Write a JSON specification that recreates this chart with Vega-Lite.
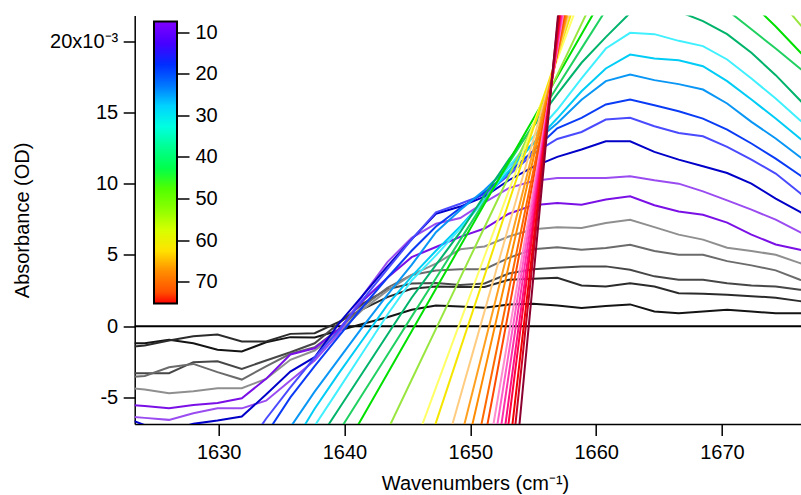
{
  "$schema": "https://vega.github.io/schema/vega-lite/v6.json",
  "width": 666.3,
  "height": 408.5,
  "autosize": {"type": "none"},
  "padding": {"left": 134.7, "top": 15.5, "right": 0, "bottom": 71},
  "background": "white",
  "config": {
    "font": "Liberation Sans",
    "view": {"stroke": null},
    "axis": {"grid": false, "domainColor": "black", "domainWidth": 1.5, "tickColor": "black", "tickWidth": 1.5, "labelColor": "black", "titleColor": "black", "labelFontSize": 20, "titleFontSize": 20, "titleFontWeight": "normal", "labelFont": "Liberation Sans", "titleFont": "Liberation Sans"}
  },
  "layer": [
    {
      "data": {"values": [
        {"x":1622.20,"s00":0,"s01":-1.2,"s02":-1.5,"s03":-3.3,"s04":-3.6,"s05":-4.3,"s06":-5.5,"s07":-6.3,"s08":-6.3},
        {"x":1624.13,"s00":0,"s01":-1.2,"s02":-1.36,"s03":-3.3,"s04":-3.5,"s05":-4.45,"s06":-5.6,"s07":-6.44,"s08":-6.95},
        {"x":1626.06,"s00":0,"s01":-0.96,"s02":-1.01,"s03":-3.3,"s04":-2.88,"s05":-4.71,"s06":-5.77,"s07":-6.58,"s08":-7.3},
        {"x":1627.99,"s00":0,"s01":-1.2,"s02":-0.7,"s03":-2.53,"s04":-2.65,"s05":-4.57,"s06":-5.53,"s07":-6.12,"s08":-6.86},
        {"x":1629.91,"s00":0,"s01":-1.66,"s02":-0.58,"s03":-2.46,"s04":-3.23,"s05":-4.36,"s06":-5.39,"s07":-5.77,"s08":-6.63,"s09":-11},
        {"x":1631.84,"s00":0,"s01":-1.78,"s02":-1.08,"s03":-3.0,"s04":-3.75,"s05":-4.36,"s06":-5.06,"s07":-5.77,"s08":-6.35,"s09":-9.0,"s10":-10},
        {"x":1633.77,"s00":0,"s01":-1.13,"s02":-1.08,"s03":-2.41,"s04":-2.83,"s05":-3.7,"s06":-3.7,"s07":-5.23,"s08":-4.8,"s09":-6.5,"s10":-7.6,"s11":-9.5},
        {"x":1635.70,"s00":0,"s01":-0.77,"s02":-0.54,"s03":-1.83,"s04":-1.94,"s05":-2.36,"s06":-1.99,"s07":-3.82,"s08":-3.19,"s09":-4.3,"s10":-5.0,"s11":-7.1,"s12":-8.6,"s13":-9.6},
        {"x":1637.63,"s00":0,"s01":-0.8,"s02":-0.49,"s03":-1.2,"s04":-1.48,"s05":-1.71,"s06":-1.55,"s07":-2.41,"s08":-2.18,"s09":-2.2,"s10":-2.8,"s11":-4.6,"s12":-5.8,"s13":-7.0,"s14":-8.4},
        {"x":1639.56,"s00":0,"s01":-0.3,"s02":0.3,"s03":0.2,"s04":-0.2,"s05":-0.4,"s06":-0.2,"s07":-0.5,"s08":0.2,"s09":-0.3,"s10":-0.7,"s11":-2.3,"s12":-3.3,"s13":-4.4,"s14":-5.8,"s15":-7.39,"s16":-9.28},
        {"x":1641.49,"s00":0,"s01":0.17,"s02":1.22,"s03":1.6,"s04":1.4,"s05":1.2,"s06":1.8,"s07":2.2,"s08":2.2,"s09":1.9,"s10":1.4,"s11":0.0,"s12":-0.9,"s13":-1.8,"s14":-3.2,"s15":-4.69,"s16":-6.3},
        {"x":1643.41,"s00":0,"s01":0.63,"s02":2.04,"s03":2.6,"s04":2.7,"s05":2.5,"s06":3.4,"s07":4.5,"s08":4.2,"s09":4.0,"s10":3.4,"s11":2.2,"s12":1.5,"s13":0.8,"s14":-0.6,"s15":-2.02,"s16":-3.34,"s17":-7.34},
        {"x":1645.34,"s00":0,"s01":1.15,"s02":2.63,"s03":3.0,"s04":3.6,"s05":3.6,"s06":4.85,"s07":6.2,"s08":6.1,"s09":6.1,"s10":5.3,"s11":4.3,"s12":3.5,"s13":3.21,"s14":2.0,"s15":0.67,"s16":-0.35,"s17":-3.76,"s18":-8.93,"s19":-11.94},
        {"x":1647.27,"s00":0,"s01":1.46,"s02":2.79,"s03":3.03,"s04":3.91,"s05":4.4,"s06":5.56,"s07":7.2,"s08":7.9,"s09":8.0,"s10":7.0,"s11":6.6,"s12":5.3,"s13":4.97,"s14":4.3,"s15":3.37,"s16":2.63,"s17":-0.19,"s18":-4.31,"s19":-6.77,"s20":-10.96},
        {"x":1649.20,"s00":0,"s01":1.39,"s02":2.75,"s03":2.9,"s04":4.0,"s05":5.4,"s06":6.27,"s07":7.6,"s08":8.4,"s09":8.6,"s10":8.3,"s11":8.16,"s12":7.0,"s13":6.85,"s14":6.6,"s15":6.06,"s16":5.61,"s17":3.39,"s18":0.3,"s19":-1.61,"s20":-4.95,"s21":-8.05,"s22":-10.61,"s23":-14.15},
        {"x":1651.13,"s00":0,"s01":1.29,"s02":2.75,"s03":3.0,"s04":4.0,"s05":5.6,"s06":6.86,"s07":8.7,"s08":9.1,"s09":9.26,"s10":9.4,"s11":9.56,"s12":8.9,"s13":8.84,"s14":9.2,"s15":8.75,"s16":8.59,"s17":6.95,"s18":4.91,"s19":3.54,"s20":1.04,"s21":-1.27,"s22":-3.19,"s23":-5.83,"s24":-7.99,"s25":-10.57,"s26":-12.61,"s27":-14.98,"s28":-17.77,"s29":-20.22},
        {"x":1653.06,"s00":0,"s01":1.53,"s02":3.26,"s03":3.7,"s04":4.8,"s05":6.3,"s06":7.9,"s07":9.7,"s08":10.25,"s09":10.6,"s10":10.8,"s11":11.2,"s12":10.9,"s13":11.19,"s14":11.7,"s15":11.44,"s16":11.57,"s17":10.53,"s18":9.52,"s19":8.7,"s20":7.05,"s21":5.53,"s22":4.27,"s23":2.52,"s24":1.13,"s25":-0.54,"s26":-1.85,"s27":-3.36,"s28":-5.13,"s29":-6.68,"s30":-9.11,"s31":-11.3,"s32":-14.8},
        {"x":1654.99,"s00":0,"s01":1.57,"s02":3.33,"s03":4.0,"s04":5.4,"s05":6.8,"s06":8.5,"s07":10.2,"s08":11.19,"s09":12.1,"s10":12.3,"s11":12.84,"s12":12.8,"s13":13.29,"s14":14.0,"s15":14.13,"s16":14.54,"s17":14.09,"s18":14.13,"s19":13.85,"s20":13.04,"s21":12.31,"s22":11.7,"s23":10.84,"s24":10.21,"s25":9.45,"s26":8.87,"s27":8.21,"s28":7.45,"s29":6.81,"s30":5.73,"s31":4.85,"s32":3.24},
        {"x":1656.91,"s00":0,"s01":1.45,"s02":3.4,"s03":4.11,"s04":5.55,"s05":6.95,"s06":8.65,"s07":10.41,"s08":11.89,"s09":13.15,"s10":13.9,"s11":14.25,"s12":14.6,"s13":15.2,"s14":16.3,"s15":16.81,"s16":17.51,"s17":17.65,"s18":18.73,"s19":18.99,"s20":19.03,"s21":19.08,"s22":19.13,"s23":19.15,"s24":19.29,"s25":19.44,"s26":19.59,"s27":19.79,"s28":20.03,"s29":20.3,"s30":20.57,"s31":20.99,"s32":21.28},
        {"x":1658.84,"s00":0,"s01":1.27,"s02":2.86,"s03":4.2,"s04":5.37,"s05":6.89,"s06":8.53,"s07":10.41,"s08":12.41,"s09":13.64,"s10":14.63,"s11":15.9,"s12":16.5,"s13":17.4,"s14":18.5,"s15":19.51,"s16":20.5,"s17":21.23,"s18":23.34,"s19":24.16,"s20":25.04,"s21":25.89,"s22":26.59,"s23":27.5,"s24":28.41,"s25":29.48,"s26":30.35,"s27":31.41,"s28":32.66,"s29":33.84,"s30":35.47,"s31":37.22,"s32":39.4},
        {"x":1660.77,"s00":0,"s01":1.41,"s02":2.79,"s03":4.2,"s04":5.49,"s05":7.24,"s06":8.89,"s07":10.41,"s08":12.99,"s09":14.51,"s10":15.57,"s11":17.21,"s12":18.1,"s13":19.5,"s14":20.3,"s15":22.2,"s16":23.48,"s17":24.81},
        {"x":1662.70,"s00":0,"s01":1.53,"s02":3.02,"s03":3.96,"s04":5.72,"s05":7.48,"s06":9.12,"s07":10.53,"s08":12.99,"s09":14.63,"s10":15.92,"s11":17.68,"s12":19.08,"s13":20.6,"s14":22.0,"s15":23.2,"s16":24.3,"s17":25.6},
        {"x":1664.63,"s00":0,"s01":1.03,"s02":2.79,"s03":3.5,"s04":5.28,"s05":6.96,"s06":8.49,"s07":10.25,"s08":12.24,"s09":14.04,"s10":15.52,"s11":17.28,"s12":18.8,"s13":20.51,"s14":22.5,"s15":23.5,"s16":24.6,"s17":26.2},
        {"x":1666.56,"s00":0,"s01":0.91,"s02":2.32,"s03":3.26,"s04":5.02,"s05":6.43,"s06":8.06,"s07":10.01,"s08":11.7,"s09":13.57,"s10":15.1,"s11":17.0,"s12":18.68,"s13":20.04,"s14":22.1,"s15":23.4,"s16":24.5,"s17":26.2},
        {"x":1668.49,"s00":0,"s01":1.03,"s02":2.28,"s03":3.26,"s04":5.02,"s05":6.08,"s06":7.83,"s07":9.47,"s08":11.23,"s09":13.34,"s10":14.58,"s11":16.62,"s12":18.26,"s13":19.67,"s14":21.43,"s15":23.0,"s16":24.1,"s17":25.9},
        {"x":1670.41,"s00":0,"s01":1.15,"s02":2.21,"s03":3.02,"s04":4.57,"s05":5.51,"s06":7.27,"s07":8.84,"s08":10.76,"s09":12.59,"s10":13.81,"s11":15.64,"s12":17.21,"s13":18.73,"s14":20.51,"s15":22.2,"s16":23.5,"s17":25.4},
        {"x":1672.34,"s00":0,"s01":1.03,"s02":2.11,"s03":2.86,"s04":4.27,"s05":5.28,"s06":6.43,"s07":8.19,"s08":10.01,"s09":11.7,"s10":12.83,"s11":14.35,"s12":15.92,"s13":17.4,"s14":19.2,"s15":20.85,"s16":22.7,"s17":24.6},
        {"x":1674.27,"s00":0,"s01":0.91,"s02":2.0,"s03":2.79,"s04":3.92,"s05":5.02,"s06":5.74,"s07":7.48,"s08":8.96,"s09":10.72,"s10":11.77,"s11":13.18,"s12":14.58,"s13":15.99,"s14":17.63,"s15":19.5,"s16":21.05,"s17":23.2},
        {"x":1676.20,"s00":0,"s01":0.91,"s02":1.76,"s03":2.56,"s04":3.26,"s05":4.43,"s06":5.37,"s07":6.61,"s08":8.02,"s09":9.35,"s10":10.6,"s11":11.88,"s12":13.18,"s13":14.47,"s14":15.87,"s15":18.1,"s16":19.26,"s17":21.2},
        {"x":1678.13,"s00":0,"s01":0.9,"s02":1.6,"s03":2.4,"s04":2.9,"s05":4.0,"s06":5.0,"s07":5.8,"s08":7.0,"s09":8.0,"s10":9.4,"s11":10.6,"s12":11.8,"s13":13.0,"s14":14.0,"s15":16.7,"s16":17.4,"s17":19.2}
      ]},
      "transform": [
        {"fold": ["s00","s01","s02","s03","s04","s05","s06","s07","s08","s09","s10","s11","s12","s13","s14","s15","s16","s17","s18","s19","s20","s21","s22","s23","s24","s25","s26","s27","s28","s29","s30","s31","s32"], "as": ["s", "v"]},
        {"filter": "isValid(datum.v)"}
      ],
      "mark": {"type": "line", "clip": true, "strokeWidth": 2},
      "encoding": {
        "x": {"field": "x", "type": "quantitative", "scale": {"domain": [1623.33, 1676.28], "nice": false, "zero": false},
          "axis": {"values": [1630, 1640, 1650, 1660, 1670], "format": "d", "tickSize": 11.5, "labelPadding": 7, "title": "Wavenumbers (cm⁻¹)", "titleX": 340.3, "titleY": 65, "titleBaseline": "alphabetic", "titleAlign": "center"}},
        "y": {"field": "v", "type": "quantitative", "scale": {"domain": [-6.87, 21.82], "nice": false, "zero": false},
          "axis": {"orient": "left", "values": [-5, 0, 5, 10, 15, 20], "labelExpr": "datum.value == 20 ? '20x10⁻³' : (datum.value < 0 ? '-' + abs(datum.value) : datum.label)", "tickSize": 11.5, "labelPadding": 5.5, "title": "Absorbance (OD)", "titleX": -106.7, "titleY": 204.4, "titleAngle": -90, "titleBaseline": "alphabetic", "titleAlign": "center"}},
        "color": {"field": "s", "type": "nominal", "legend": null,
          "scale": {"domain": ["s00","s01","s02","s03","s04","s05","s06","s07","s08","s09","s10","s11","s12","s13","s14","s15","s16","s17","s18","s19","s20","s21","s22","s23","s24","s25","s26","s27","s28","s29","s30","s31","s32"],
            "range": ["#000000","#141414","#2b2b2b","#474747","#6b6b6b","#8f8f8f","#7a10e6","#9a4cf0","#0000c8","#4a4aff","#0a3cf5","#0a96f5","#00ccf5","#40f0ff","#00b36b","#20d060","#00e000","#99e640","#ffff66","#f5e600","#ffcc80","#ffa020","#ff8c00","#ff6a00","#ff4a00","#ff8ccc","#ff5cc8","#ff30a8","#ff1080","#ff0040","#f00000","#cc0022","#8c0030"]}}
      }
    },
    {
      "data": {"values": [{"t": 10}, {"t": 70}]},
      "mark": {"type": "point", "opacity": 0},
      "encoding": {
        "y": {"field": "t", "type": "quantitative", "scale": {"domain": [6.0, 104.24], "reverse": true, "nice": false, "zero": false},
          "axis": {"orient": "right", "offset": -624, "values": [10, 20, 30, 40, 50, 60, 70], "domain": false, "tickSize": 12, "labelPadding": 6, "title": null}},
        "color": {"field": "t", "type": "quantitative",
          "scale": {"domain": [7.3, 14.7, 21.7, 30.7, 37.7, 45.7, 52.7, 57.7, 62.7, 67.7, 75.4],
            "range": ["#ff0000", "#ff8800", "#ffff00", "#80ff00", "#00ff00", "#00ff99", "#00ffff", "#0099ff", "#0040ff", "#0000ff", "#8000ff"]},
          "legend": {"orient": "none", "legendX": 19.3, "legendY": 6, "direction": "vertical", "gradientLength": 282, "gradientThickness": 23, "gradientStrokeColor": "black", "gradientStrokeWidth": 2, "title": null, "labelOpacity": 0, "padding": 0, "offset": 0}}
      }
    }
  ],
  "resolve": {"scale": {"y": "independent", "color": "independent"}}
}
